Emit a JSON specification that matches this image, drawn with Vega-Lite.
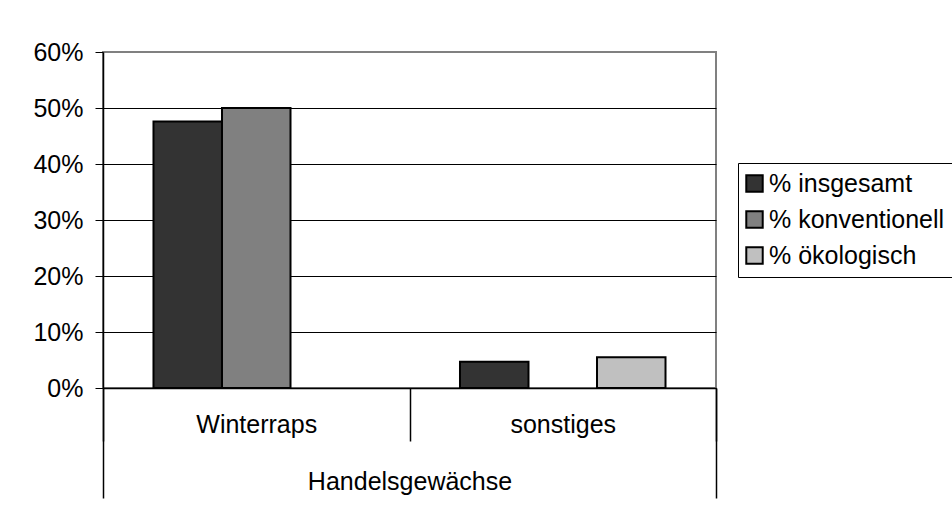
{
  "$schema": "https://vega.github.io/schema/vega-lite/v6.json",
  "width": 613,
  "height": 336,
  "autosize": "none",
  "padding": {"left": 103, "top": 52, "right": 236, "bottom": 131},
  "background": "white",
  "config": {
    "font": "Liberation Sans",
    "view": {"stroke": "#808080", "strokeWidth": 2},
    "axis": {"labelColor": "black", "labelFont": "Liberation Sans", "tickColor": "black", "domainColor": "black", "labelLimit": 0}
  },
  "data": {
    "values": [
      {"gruppe": "Handelsgewächse", "kultur": "Winterraps", "serie": "% insgesamt", "wert": 0.476},
      {"gruppe": "Handelsgewächse", "kultur": "Winterraps", "serie": "% konventionell", "wert": 0.5},
      {"gruppe": "Handelsgewächse", "kultur": "sonstiges", "serie": "% insgesamt", "wert": 0.047},
      {"gruppe": "Handelsgewächse", "kultur": "sonstiges", "serie": "% ökologisch", "wert": 0.055}
    ]
  },
  "layer": [
    {
      "mark": {"type": "bar", "stroke": "black", "strokeWidth": 2},
      "encoding": {
        "x": {
          "field": "kultur", "type": "nominal", "sort": ["Winterraps", "sonstiges"],
          "scale": {"paddingInner": 0, "paddingOuter": 0},
          "axis": {"title": null, "orient": "bottom", "tickBand": "extent", "tickSize": 53, "tickWidth": 1.5,
                   "labelPadding": -9, "labelBaseline": "alphabetic", "labelFontSize": 25, "labelAngle": 0, "labelLimit": 0,
                   "domainWidth": 1.5, "grid": false}
        },
        "xOffset": {
          "field": "serie", "type": "nominal", "sort": ["% insgesamt", "% konventionell", "% ökologisch"],
          "scale": {"paddingInner": 0, "paddingOuter": 0.737}
        },
        "y": {
          "field": "wert", "type": "quantitative",
          "scale": {"domain": [0, 0.6], "nice": false},
          "axis": {"title": null, "values": [0, 0.1, 0.2, 0.3, 0.4, 0.5, 0.6], "format": ".0%",
                   "tickSize": 8, "labelPadding": 12, "labelFontSize": 25, "domainWidth": 1.5,
                   "grid": true, "gridWidth": 1,
                   "gridColor": {"condition": {"test": "datum.value > 0.55", "value": "#808080"}, "value": "black"}}
        },
        "color": {
          "field": "serie", "type": "nominal",
          "scale": {"domain": ["% insgesamt", "% konventionell", "% ökologisch"], "range": ["#333333", "#808080", "#c0c0c0"]},
          "legend": {"title": null, "orient": "none", "legendX": 635, "legendY": 111,
                     "strokeColor": "black", "fillColor": "white", "padding": 8,
                     "symbolType": "square", "symbolSize": 270, "symbolStrokeColor": "black", "symbolStrokeWidth": 2,
                     "symbolOffset": -4,
                     "labelFontSize": 25, "labelColor": "black", "labelFont": "Liberation Sans", "labelLimit": 0,
                     "rowPadding": 10, "labelOffset": 2}
        }
      }
    },
    {
      "mark": {"type": "bar", "opacity": 0},
      "encoding": {
        "x": {
          "field": "gruppe", "type": "nominal",
          "scale": {"paddingInner": 0, "paddingOuter": 0},
          "axis": {"title": null, "orient": "bottom", "tickBand": "extent", "tickSize": 110, "tickWidth": 1.5,
                   "labelPadding": -9, "labelBaseline": "alphabetic", "labelFontSize": 25, "labelAngle": 0, "labelLimit": 0,
                   "domain": false, "grid": false}
        },
        "y": {"field": "wert", "type": "quantitative"}
      }
    }
  ],
  "resolve": {"scale": {"x": "independent"}, "axis": {"x": "independent"}}
}
